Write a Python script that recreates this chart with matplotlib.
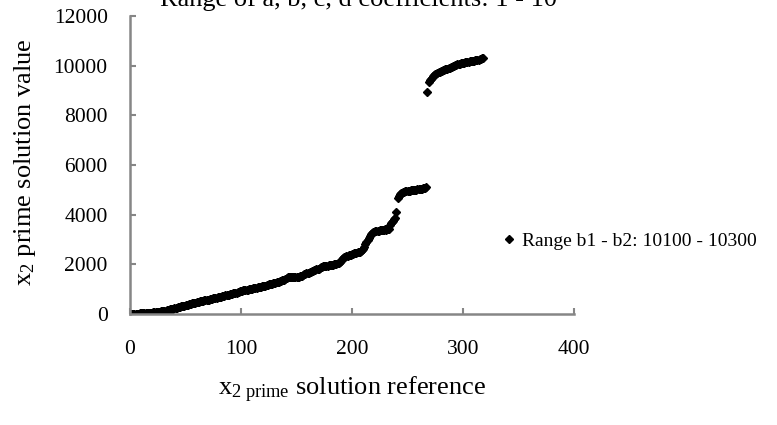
import numpy as np
import matplotlib
matplotlib.use("Agg")
import matplotlib.pyplot as plt

plt.rcParams['font.family'] = ['Liberation Serif', 'DejaVu Serif']
plt.rcParams['mathtext.fontset'] = 'custom'
plt.rcParams['mathtext.rm'] = 'Liberation Serif'
plt.rcParams['mathtext.it'] = 'Liberation Serif:italic'

title = "Range of a, b, c, d coefficients: 1 - 10"
series_name = "Range b1 - b2: 10100 - 10300"

# x2 prime solution values (reference index 1..318)
x2_values = [
    2, 5, 8, 10, 13, 15, 18, 20, 22, 25,
    28, 31, 34, 37, 40, 44, 48, 52, 56, 60,
    65, 70, 75, 80, 86, 92, 98, 104, 112, 120,
    130, 140, 150, 165, 175, 185, 195, 205, 218, 230,
    242, 255, 268, 280, 292, 305, 318, 330, 340, 350,
    362, 375, 390, 405, 420, 430, 440, 450, 460, 470,
    480, 492, 505, 515, 525, 535, 545, 552, 560, 570,
    580, 590, 602, 615, 625, 635, 645, 655, 665, 680,
    690, 700, 712, 725, 735, 745, 755, 765, 778, 790,
    802, 815, 828, 840, 852, 865, 880, 895, 910, 930,
    940, 948, 955, 962, 970, 980, 990, 1000, 1010, 1020,
    1030, 1040, 1050, 1060, 1070, 1080, 1090, 1100, 1110, 1120,
    1130, 1145, 1160, 1175, 1190, 1200, 1210, 1220, 1235, 1250,
    1262, 1275, 1290, 1305, 1320, 1335, 1350, 1360, 1375, 1390,
    1440, 1470, 1475, 1480, 1485, 1488, 1490, 1493, 1496, 1500,
    1505, 1510, 1515, 1520, 1540, 1570, 1600, 1620, 1640, 1650,
    1670, 1690, 1710, 1730, 1750, 1765, 1780, 1795, 1810, 1820,
    1860, 1890, 1910, 1925, 1930, 1940, 1945, 1950, 1955, 1960,
    1970, 1980, 1990, 2000, 2010, 2020, 2040, 2060, 2100, 2150,
    2200, 2240, 2280, 2300, 2320, 2340, 2360, 2375, 2390, 2400,
    2420, 2440, 2455, 2470, 2480, 2495, 2505, 2520, 2560, 2600,
    2700, 2800, 2900, 3000, 3080, 3150, 3220, 3270, 3300, 3320,
    3335, 3345, 3355, 3362, 3370, 3378, 3385, 3392, 3400, 3405,
    3400, 3410, 3420, 3600, 3650, 3700, 3760, 3820, 3860, 4120,
    4680, 4760, 4830, 4870, 4890, 4910, 4925, 4935, 4945, 4955,
    4962, 4968, 4975, 4980, 4988, 4995, 5000, 5008, 5015, 5020,
    5030, 5040, 5050, 5060, 5070, 5085, 5100, 8950, 9350, 9420,
    9470, 9520, 9570, 9610, 9650, 9680, 9710, 9740, 9760, 9780,
    9800, 9820, 9840, 9855, 9870, 9885, 9900, 9920, 9940, 9960,
    9980, 10000, 10020, 10040, 10055, 10070, 10085, 10095, 10105, 10115,
    10125, 10135, 10145, 10155, 10162, 10170, 10178, 10185, 10192, 10200,
    10210, 10220, 10230, 10245, 10260, 10275, 10290, 10300,
]
x2_ref = np.arange(1, len(x2_values) + 1)

x_ticks = [0, 100, 200, 300, 400]
y_ticks = [0, 2000, 4000, 6000, 8000, 10000, 12000]

W, H = 777, 425
fig = plt.figure(figsize=(W / 100, H / 100), dpi=100)
ax = fig.add_axes([130 / W, 1 - 314 / H, (574 - 130) / W, (314 - 16) / H])

ax.plot(x2_ref, x2_values, linestyle='none', marker='D', markersize=3.8,
        color='black', label=series_name)

ax.set_xlim(0, 400)
ax.set_ylim(0, 12000)
ax.set_xticks(x_ticks)
ax.set_yticks(y_ticks)

grey = '#868686'
for s in ['top', 'right']:
    ax.spines[s].set_visible(False)
for s in ['left', 'bottom']:
    ax.spines[s].set_color(grey)
    ax.spines[s].set_linewidth(1.8)
ax.tick_params(direction='in', length=4, width=1.5, color=grey, labelsize=15.5)
ax.tick_params(axis='x', pad=19)
ax.tick_params(axis='y', pad=16)

ax.set_ylabel(r'x$_\mathrm{2}$ prime solution value', fontsize=19)
ax.yaxis.set_label_coords(-0.207, 0.51)
ax.set_xlabel(r'x$_\mathrm{2\ prime}$ solution reference', fontsize=19)
ax.xaxis.set_label_coords(0.5, -0.205)

# title sits partly above the top edge, as in the reference
fig.text(358 / W, 1 - 6 / H, title, ha='center', va='baseline', fontsize=19)

ax.legend(loc='center left', bbox_to_anchor=(503 / W, 1 - 241 / H),
          bbox_transform=fig.transFigure, frameon=False, fontsize=14,
          handlelength=0.6, handletextpad=0.4, markerscale=1.1,
          borderaxespad=0, borderpad=0)

fig.savefig('out.png', dpi=100)
